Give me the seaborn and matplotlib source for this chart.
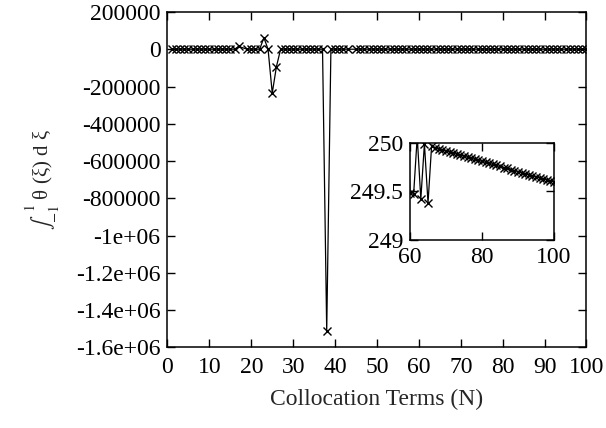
import numpy as np
import pandas as pd
import matplotlib
matplotlib.use("Agg")
import matplotlib.pyplot as plt
import seaborn as sns
from matplotlib.ticker import FixedLocator, FixedFormatter

# ---------------- data ----------------
N = list(range(1, 101))
integral = [
    # 1-10
    249.8, 250.1, 249.7, 250.2, 249.9, 249.6, 250.3, 249.8, 250.0, 249.7,
    # 11-20
    250.2, 249.9, 250.4, 249.6, 250.1, 249.8, 15000.0, np.nan, 250.5, 249.4,
    # 21-30
    250.6, 249.7, 62000.0, 251.0, -235000.0, -93000.0, 249.2, 250.8, 249.5, 250.3,
    # 31-40
    249.6, 250.2, 249.9, 250.4, 249.3, 250.7, 251.2, -1510000.0, 248.9, 250.5,
    # 41-50
    249.6, 250.3, 249.8, np.nan, 250.2, 249.5, 250.4, 249.7, 250.1, 249.6,
    # 51-60
    250.3, 249.5, 250.2, 249.6, 250.3, 249.5, 250.2, 249.5, 250.4, 249.48,
    # 61-70
    249.47, 250.06, 249.42, 249.99, 249.38, 249.97, 249.945, 249.935, 249.925, 249.915,
    # 71-80
    249.904, 249.893, 249.883, 249.872, 249.862, 249.851, 249.840, 249.830, 249.819, 249.809,
    # 81-90
    249.798, 249.788, 249.777, 249.766, 249.756, 249.745, 249.735, 249.724, 249.714, 249.703,
    # 91-100
    249.692, 249.682, 249.671, 249.661, 249.650, 249.640, 249.629, 249.619, 249.608, 249.598,
]

main_xticks = [0, 10, 20, 30, 40, 50, 60, 70, 80, 90, 100]
main_yticks = [200000, 0, -200000, -400000, -600000, -800000,
               -1000000, -1200000, -1400000, -1600000]
main_ylabels = ["200000", "0", "-200000", "-400000", "-600000", "-800000",
                "-1e+06", "-1.2e+06", "-1.4e+06", "-1.6e+06"]
inset_xticks = [60, 80, 100]
inset_yticks = [249, 249.5, 250]
inset_ylabels = ["249", "249.5", "250"]

xlabel = "Collocation Terms (N)"
ylabel = r"$\int_{-1}^{\ 1}$" + " θ (ξ) d ξ"

# ---------------- style ----------------
sns.set_theme(style="ticks")
plt.rcParams["font.family"] = ["Liberation Serif", "DejaVu Serif"]
plt.rcParams["mathtext.fontset"] = "stix"
FS = 17

df = pd.DataFrame({"N": N, "I": integral})

fig = plt.figure(figsize=(6.06, 4.28), dpi=100)
ax = fig.add_axes([0.2764, 0.1881, 0.6914, 0.7839])

line_kw = dict(color="black", linewidth=0.9, marker="x", markersize=6,
               markeredgewidth=1.0, markeredgecolor="black",
               estimator=None, sort=False, legend=False)

sns.lineplot(data=df, x="N", y="I", ax=ax, **line_kw)

ax.set_xlim(0, 100)
ax.set_ylim(-1600000, 200000)
ax.xaxis.set_major_locator(FixedLocator(main_xticks))
ax.yaxis.set_major_locator(FixedLocator(main_yticks))
ax.yaxis.set_major_formatter(FixedFormatter(main_ylabels))
ax.set_xlabel(xlabel, fontsize=FS, labelpad=8)
ax.set_ylabel(ylabel, fontsize=15, labelpad=10)

def style_axes(a, pad_x, pad_y):
    for s in a.spines.values():
        s.set_visible(True)
        s.set_linewidth(1.1)
        s.set_color("black")
    a.tick_params(axis="both", which="both", direction="in", length=5.8,
                  width=1.0, colors="black", labelsize=FS,
                  top=True, right=True)
    a.tick_params(axis="x", pad=pad_x)
    a.tick_params(axis="y", pad=pad_y)
    a.grid(False)
    a.set_facecolor("white")

style_axes(ax, 7, 5)

# ---------------- inset ----------------
axin = fig.add_axes([0.6766, 0.4393, 0.2376, 0.2273])
sns.lineplot(data=df, x="N", y="I", ax=axin, **line_kw)
axin.set_xlim(60, 100)
axin.set_ylim(249, 250)
axin.xaxis.set_major_locator(FixedLocator(inset_xticks))
axin.yaxis.set_major_locator(FixedLocator(inset_yticks))
axin.yaxis.set_major_formatter(FixedFormatter(inset_ylabels))
axin.set_xlabel("")
axin.set_ylabel("")
style_axes(axin, 5, 5)

fig.savefig("out.png", dpi=100, facecolor="white")
